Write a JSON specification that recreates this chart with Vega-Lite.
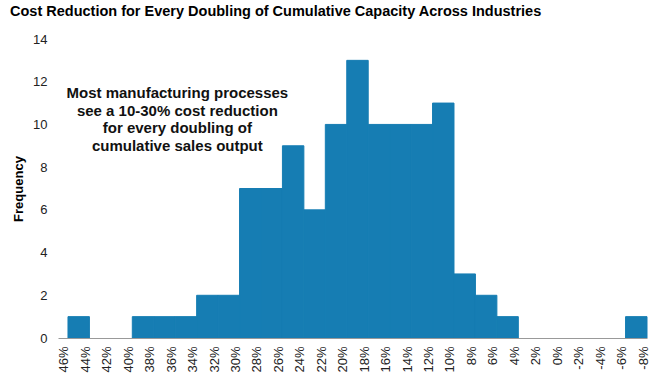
{
  "$schema": "https://vega.github.io/schema/vega-lite/v6.json",
  "width": 589,
  "height": 299,
  "autosize": "none",
  "padding": {"left": 58, "top": 39, "right": 5, "bottom": 41},
  "background": "white",
  "config": {"view": {"stroke": null}, "font": "Liberation Sans", "axis": {"labelOverlap": false}},
  "title": {
    "text": "Cost Reduction for Every Doubling of Cumulative Capacity Across Industries",
    "anchor": "start",
    "frame": "group",
    "dx": -48,
    "offset": 14,
    "fontSize": 14.5,
    "fontWeight": "bold",
    "color": "#000000",
    "font": "Liberation Sans"
  },
  "layer": [
    {
      "data": {
        "values": [
          {"hi": 46, "lo": 44, "count": 1},
          {"hi": 44, "lo": 42, "count": 0},
          {"hi": 42, "lo": 40, "count": 0},
          {"hi": 40, "lo": 38, "count": 1},
          {"hi": 38, "lo": 36, "count": 1},
          {"hi": 36, "lo": 34, "count": 1},
          {"hi": 34, "lo": 32, "count": 2},
          {"hi": 32, "lo": 30, "count": 2},
          {"hi": 30, "lo": 28, "count": 7},
          {"hi": 28, "lo": 26, "count": 7},
          {"hi": 26, "lo": 24, "count": 9},
          {"hi": 24, "lo": 22, "count": 6},
          {"hi": 22, "lo": 20, "count": 10},
          {"hi": 20, "lo": 18, "count": 13},
          {"hi": 18, "lo": 16, "count": 10},
          {"hi": 16, "lo": 14, "count": 10},
          {"hi": 14, "lo": 12, "count": 10},
          {"hi": 12, "lo": 10, "count": 11},
          {"hi": 10, "lo": 8, "count": 3},
          {"hi": 8, "lo": 6, "count": 2},
          {"hi": 6, "lo": 4, "count": 1},
          {"hi": 4, "lo": 2, "count": 0},
          {"hi": 2, "lo": 0, "count": 0},
          {"hi": 0, "lo": -2, "count": 0},
          {"hi": -2, "lo": -4, "count": 0},
          {"hi": -4, "lo": -6, "count": 0},
          {"hi": -6, "lo": -8, "count": 1}
        ]
      },
      "mark": {"type": "bar", "color": "#167db3", "stroke": "#167db3", "strokeWidth": 1},
      "encoding": {
        "x": {
          "field": "hi",
          "type": "quantitative",
          "scale": {"domain": [-8, 46.93], "reverse": true, "nice": false, "zero": false},
          "axis": {
            "title": null,
            "values": [46, 44, 42, 40, 38, 36, 34, 32, 30, 28, 26, 24, 22, 20, 18, 16, 14, 12, 10, 8, 6, 4, 2, 0, -2, -4, -6, -8],
            "tickCount": 40,
            "labelExpr": "datum.value + '%'",
            "labelAngle": -90,
            "labelAlign": "right",
            "labelBaseline": "middle",
            "labelOffset": -4,
            "labelPadding": 8,
            "labelFontSize": 13,
            "labelColor": "#222222",
            "labelFont": "Liberation Sans",
            "labelOverlap": false,
            "labelFlush": false,
            "ticks": false,
            "grid": false,
            "domain": true,
            "domainColor": "#999999",
            "domainWidth": 1,
            "zindex": 1
          }
        },
        "x2": {"field": "lo"},
        "y": {
          "field": "count",
          "type": "quantitative",
          "scale": {"domain": [0, 14], "nice": false},
          "axis": {
            "title": "Frequency",
            "titleFontSize": 13,
            "titleFontWeight": "bold",
            "titleColor": "#000000",
            "titleFont": "Liberation Sans",
            "titlePadding": 7,
            "values": [0, 2, 4, 6, 8, 10, 12, 14],
            "labelFontSize": 13,
            "labelColor": "#222222",
            "labelFont": "Liberation Sans",
            "labelPadding": 11,
            "ticks": false,
            "grid": false,
            "domain": false
          }
        },
        "y2": {"datum": 0},
        "strokeOpacity": {"condition": {"test": "datum.count == 0", "value": 0}, "value": 1}
      }
    },
    {
      "data": {
        "values": [
          {"x": 35.8, "y": 11.47, "label": ["Most manufacturing processes", "see a 10-30% cost reduction", "for every doubling of", "cumulative sales output"]}
        ]
      },
      "mark": {
        "type": "text",
        "font": "Liberation Sans",
        "fontSize": 15,
        "fontWeight": "bold",
        "lineHeight": 17.7,
        "align": "center",
        "baseline": "middle",
        "color": "#111111"
      },
      "encoding": {
        "x": {"field": "x", "type": "quantitative"},
        "y": {"field": "y", "type": "quantitative"},
        "text": {"field": "label"}
      }
    }
  ]
}
